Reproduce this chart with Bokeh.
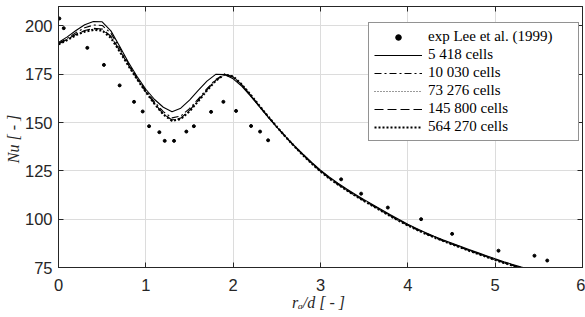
from bokeh.plotting import figure
from bokeh.models import (Range1d, LinearAxis, FixedTicker, Legend, LegendItem)
from bokeh.embed import file_html
from bokeh.resources import INLINE

# ---------------- data ----------------
x_exp = [0.01, 0.06, 0.33, 0.52, 0.70, 0.865, 0.964, 1.037, 1.155, 1.216, 1.323,
         1.464, 1.55, 1.747, 1.888, 2.033, 2.205, 2.308, 2.40, 3.236, 3.465,
         3.771, 4.152, 4.507, 5.038, 5.45, 5.596]
nu_exp = [203.8, 198.8, 188.6, 179.8, 169.2, 160.7, 155.7, 148.1, 145.0, 140.5,
          140.5, 145.3, 148.1, 155.5, 160.7, 156.0, 148.2, 145.3, 140.8, 120.6,
          113.2, 106.0, 100.0, 92.4, 83.7, 81.1, 78.6]

x_sim = [0.0, 0.1, 0.2, 0.3, 0.4, 0.5, 0.6, 0.7, 0.8, 0.9, 1.0, 1.1, 1.2, 1.3,
         1.4, 1.5, 1.6, 1.7, 1.8, 1.9, 2.0, 2.1, 2.2, 2.3, 2.4, 2.5, 2.6, 2.7,
         2.8, 2.9, 3.0, 3.1, 3.2, 3.3, 3.4, 3.5, 3.6, 3.7, 3.8, 3.9, 4.0, 4.1,
         4.2, 4.3, 4.4, 4.5, 4.6, 4.7, 4.8, 4.9, 5.0, 5.1, 5.2, 5.3, 5.4]

nu_5418 = [191.4, 194.3, 197.6, 200.6, 202.2, 202.1, 197.4, 189.4, 181.2, 173.8,
           167.2, 161.9, 157.9, 155.6, 157.4, 161.6, 166.6, 171.4, 174.9, 174.8,
           172.6, 168.7, 163.6, 158.2, 152.8, 147.6, 142.7, 138.0, 133.6, 129.3,
           125.4, 121.8, 118.6, 115.6, 112.8, 110.1, 107.5, 104.9, 102.3, 99.8,
           97.4, 95.2, 93.1, 91.2, 89.4, 87.7, 86.0, 84.3, 82.7, 81.1,
           79.5, 78.0, 76.6, 75.2, 73.9]
nu_10030 = [190.9, 193.5, 196.5, 199.0, 200.4, 200.2, 196.2, 188.6, 180.6, 173.2,
            166.5, 160.6, 155.6, 152.4, 153.3, 157.2, 162.2, 167.5, 172.3, 175.0,
            173.5, 169.3, 164.0, 158.5, 153.0, 147.7, 142.7, 137.8, 133.3, 129.0,
            125.0, 121.4, 118.2, 115.2, 112.4, 109.7, 107.1, 104.5, 101.9, 99.4,
            97.1, 94.9, 92.8, 90.9, 89.1, 87.4, 85.7, 84.0, 82.4, 80.8,
            79.2, 77.7, 76.3, 74.9, 73.6]
nu_73276 = [190.5, 192.9, 195.4, 197.3, 198.3, 198.0, 194.2, 187.1, 179.6, 172.5,
            165.8, 159.7, 154.3, 151.1, 152.0, 156.0, 161.2, 166.7, 171.7, 174.8,
            173.7, 169.5, 164.2, 158.6, 153.0, 147.7, 142.6, 137.7, 133.1, 128.7,
            124.7, 121.1, 117.9, 114.9, 112.1, 109.4, 106.8, 104.2, 101.6, 99.1,
            96.8, 94.6, 92.5, 90.6, 88.8, 87.1, 85.4, 83.7, 82.1, 80.5,
            78.9, 77.4, 76.0, 74.6, 73.3]
nu_145800 = [190.6, 193.0, 195.6, 197.6, 198.7, 198.4, 194.6, 187.4, 179.8, 172.6,
             165.9, 159.8, 154.5, 151.3, 152.3, 156.3, 161.4, 166.9, 171.8, 174.9,
             173.7, 169.5, 164.2, 158.6, 153.0, 147.7, 142.6, 137.7, 133.1, 128.8,
             124.8, 121.2, 118.0, 115.0, 112.2, 109.5, 106.9, 104.3, 101.7, 99.2,
             96.9, 94.7, 92.6, 90.7, 88.9, 87.2, 85.5, 83.8, 82.2, 80.6,
             79.0, 77.5, 76.1, 74.7, 73.4]
nu_564270 = [190.4, 192.7, 195.2, 197.0, 197.9, 197.6, 193.8, 186.8, 179.4, 172.4,
             165.8, 159.6, 154.2, 150.9, 151.8, 155.8, 161.0, 166.6, 171.6, 174.8,
             173.8, 169.6, 164.3, 158.7, 153.1, 147.8, 142.6, 137.7, 133.1, 128.7,
             124.7, 121.1, 117.9, 114.9, 112.1, 109.4, 106.8, 104.2, 101.6, 99.1,
             96.8, 94.6, 92.5, 90.6, 88.8, 87.1, 85.4, 83.7, 82.1, 80.5,
             78.9, 77.4, 76.0, 74.6, 73.3]

x_ticks = [0, 1, 2, 3, 4, 5, 6]
y_ticks = [75, 100, 125, 150, 175, 200]

legend_labels = ["exp Lee et al. (1999)", "5 418 cells", "10 030 cells",
                 "73 276 cells", "145 800 cells", "564 270 cells"]
x_title = "r\u2090/d  [ - ]"
y_title = "Nu  [ - ]"

# ---------------- figure ----------------
AX = "#262626"
W, H = 585, 317
p = figure(width=W, height=H, output_backend="svg", toolbar_location=None,
           x_range=Range1d(0, 6), y_range=Range1d(75, 210),
           min_border_left=58, min_border_right=3, min_border_top=6,
           min_border_bottom=50)
p.background_fill_color = "white"
p.border_fill_color = "white"
p.outline_line_color = AX
p.outline_line_width = 1

for ax, ticks in ((p.xaxis[0], x_ticks), (p.yaxis[0], y_ticks)):
    ax.ticker = FixedTicker(ticks=ticks)
    ax.major_tick_in = 5
    ax.major_tick_out = 0
    ax.minor_tick_line_color = None
    ax.axis_line_color = AX
    ax.major_tick_line_color = AX
    ax.major_label_text_color = AX
    ax.major_label_text_font = "Liberation Sans"
    ax.major_label_text_font_size = "16.5px"
    ax.axis_label_text_font = "Liberation Serif"
    ax.axis_label_text_font_style = "italic"
    ax.axis_label_text_font_size = "16px"
    ax.axis_label_text_color = AX
p.xaxis.major_label_standoff = 11
p.yaxis.major_label_standoff = 6
p.xaxis.axis_label = x_title
p.yaxis.axis_label = y_title
p.xaxis.axis_label_standoff = 0
p.yaxis.axis_label_standoff = 0

# top / right axes with inward ticks only
top = LinearAxis(ticker=FixedTicker(ticks=x_ticks), major_tick_in=5, major_tick_out=0,
                 minor_tick_line_color=None, major_label_text_font_size="0px",
                 major_label_standoff=0, axis_line_color=AX, major_tick_line_color=AX)
right = LinearAxis(ticker=FixedTicker(ticks=y_ticks), major_tick_in=5, major_tick_out=0,
                   minor_tick_line_color=None, major_label_text_font_size="0px",
                   major_label_standoff=0, axis_line_color=AX, major_tick_line_color=AX)
p.add_layout(top, "above")
p.add_layout(right, "right")

p.xgrid.ticker = FixedTicker(ticks=x_ticks)
p.ygrid.ticker = FixedTicker(ticks=y_ticks)
p.grid.grid_line_color = "#dcdcdc"
p.grid.grid_line_width = 1

# ---------------- glyphs ----------------
r_exp = p.scatter(x_exp, nu_exp, marker="circle", size=3.0, color="black")
r1 = p.line(x_sim, nu_5418, line_color="black", line_width=1.1)
r2 = p.line(x_sim, nu_10030, line_color="black", line_width=1.1, line_dash="7 3 2 3")
r3 = p.line(x_sim, nu_73276, line_color="black", line_width=0.8, line_dash="1 2")
r4 = p.line(x_sim, nu_145800, line_color="black", line_width=1.1, line_dash="9 4")
r5 = p.line(x_sim, nu_564270, line_color="black", line_width=2.2, line_dash="2 2")

legend = Legend(items=[LegendItem(label=legend_labels[0], renderers=[r_exp]),
                       LegendItem(label=legend_labels[1], renderers=[r1]),
                       LegendItem(label=legend_labels[2], renderers=[r2]),
                       LegendItem(label=legend_labels[3], renderers=[r3]),
                       LegendItem(label=legend_labels[4], renderers=[r4]),
                       LegendItem(label=legend_labels[5], renderers=[r5])],
                location=(310, 126))
legend.label_text_font = "Liberation Serif"
legend.label_text_font_size = "15px"
legend.label_text_color = "black"
legend.glyph_width = 48
legend.glyph_height = 14
legend.label_height = 14
legend.label_width = 145
legend.spacing = 1
legend.padding = 5
legend.margin = 0
legend.label_standoff = 6
legend.border_line_color = AX
legend.border_line_width = 1
legend.background_fill_color = "white"
legend.background_fill_alpha = 1
p.add_layout(legend, "center")

open("out.html", "w").write(file_html(p, INLINE))
